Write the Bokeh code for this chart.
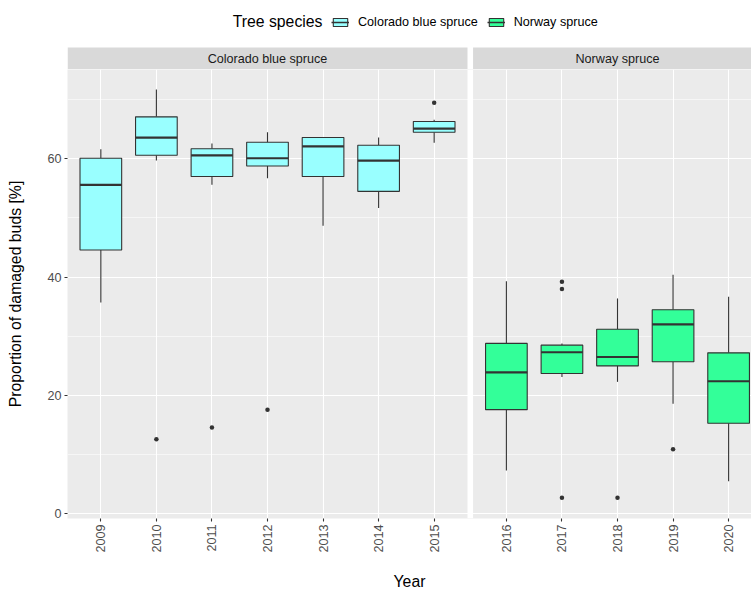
import math
from bokeh.plotting import figure
from bokeh.models import (Range1d, FixedTicker, Legend, LegendItem, ColumnDataSource)
from bokeh.layouts import column
from bokeh.embed import file_html
from bokeh.resources import INLINE
from bokeh.core.properties import value

# ---------------- data ----------------
species = ["Colorado blue spruce", "Norway spruce"]
colors = ["#99FFFF", "#33FF99"]
legend_title = "Tree species"

years_c = ["2009", "2010", "2011", "2012", "2013", "2014", "2015"]
low_c = [35.7, 59.7, 55.6, 56.7, 48.7, 51.7, 62.7]
q1_c = [44.6, 60.6, 57.0, 58.8, 57.0, 54.5, 64.5]
med_c = [55.6, 63.6, 60.6, 60.1, 62.1, 59.7, 65.1]
q3_c = [60.1, 67.1, 61.7, 62.8, 63.6, 62.3, 66.3]
up_c = [61.6, 71.7, 62.6, 64.5, 63.6, 63.6, 66.6]
out_year_c = ["2010", "2011", "2012", "2015"]
out_val_c = [12.6, 14.6, 17.6, 69.5]

years_n = ["2016", "2017", "2018", "2019", "2020"]
low_n = [7.3, 23.1, 22.3, 18.6, 5.5]
q1_n = [17.6, 23.7, 25.0, 25.7, 15.3]
med_n = [23.9, 27.3, 26.5, 32.0, 22.4]
q3_n = [28.8, 28.5, 31.2, 34.5, 27.2]
up_n = [39.3, 28.8, 36.4, 40.4, 36.7]
out_year_n = ["2017", "2017", "2017", "2018", "2019"]
out_val_n = [39.2, 38.0, 2.7, 2.7, 10.9]

y_ticks = [0, 20, 40, 60]
y_minor = [10, 30, 50, 70]

# ---------------- layout constants ----------------
FONT = "Liberation Sans"
TOTAL_W = 751
FRAME_LEFT = 67
FRAME_W = TOTAL_W - FRAME_LEFT
LEFT_PANEL_W = 400
STRIP_FIG_H = 69
STRIP_H = 22
MAIN_H = 523
MAIN_FRAME_H = 452
EXP = 0.6
GAP = 0.1
BOX_W = 0.75
DARK = "#333333"
LEGEND_CY = 21          # legend vertical centre (px from top)
LEGEND_GLYPH_X = 331    # px from left of page
TITLE_GAP = 9

# x positions (panel 1 then panel 2, with a gap between)
xc = [i + 1.0 for i in range(len(years_c))]
left_lo, left_hi = xc[0] - EXP, xc[-1] + EXP
right_lo = left_hi + GAP
xn = [right_lo + EXP + i for i in range(len(years_n))]
right_hi = xn[-1] + EXP
px_per_unit = LEFT_PANEL_W / (left_hi - left_lo)
xr = Range1d(left_lo, left_lo + FRAME_W / px_per_unit)

pos_c = dict(zip(years_c, xc))
pos_n = dict(zip(years_n, xn))

y_lo, y_hi = -0.8, 75.1

# ---------------- main panel figure ----------------
p = figure(width=TOTAL_W, height=MAIN_H, x_range=xr, y_range=Range1d(y_lo, y_hi),
           min_border_left=FRAME_LEFT, min_border_right=0, min_border_top=0,
           min_border_bottom=MAIN_H - MAIN_FRAME_H,
           background_fill_color="#EBEBEB", border_fill_color="white",
           outline_line_color=None, output_backend="svg", toolbar_location=None)

def draw_group(xs, low, q1, med, q3, up, color, oyears, ovals, pos):
    src = ColumnDataSource(dict(
        x=xs, low=low, q1=q1, med=med, q3=q3, up=up,
        xl=[x - BOX_W / 2 for x in xs], xr=[x + BOX_W / 2 for x in xs]))
    p.segment(x0="x", x1="x", y0="q3", y1="up", source=src, line_color=DARK, line_width=1.1)
    p.segment(x0="x", x1="x", y0="q1", y1="low", source=src, line_color=DARK, line_width=1.1)
    p.vbar(x="x", width=BOX_W, bottom="q1", top="q3", source=src,
           fill_color=color, line_color=DARK, line_width=1.1)
    p.segment(x0="xl", x1="xr", y0="med", y1="med", source=src, line_color=DARK, line_width=2.2)
    p.scatter(x=[pos[y] for y in oyears], y=ovals, size=4.5,
              fill_color=DARK, line_color=None)
    return src

src_c = draw_group(xc, low_c, q1_c, med_c, q3_c, up_c, colors[0], out_year_c, out_val_c, pos_c)
src_n = draw_group(xn, low_n, q1_n, med_n, q3_n, up_n, colors[1], out_year_n, out_val_n, pos_n)

# white gap between the two panels
p.quad(left=[left_hi], right=[right_lo], bottom=[y_lo], top=[y_hi],
       fill_color="white", line_color=None)

# axes
ticks_x = xc + xn
labels_x = years_c + years_n
p.xaxis.ticker = FixedTicker(ticks=ticks_x)
p.xaxis.major_label_overrides = dict(zip(ticks_x, labels_x))
p.xaxis.major_label_orientation = math.pi / 2
p.yaxis.ticker = FixedTicker(ticks=y_ticks, minor_ticks=y_minor)

for ax in (p.xaxis[0], p.yaxis[0]):
    ax.axis_line_color = None
    ax.major_tick_line_color = DARK
    ax.major_tick_line_width = 1.1
    ax.major_tick_out = 3
    ax.major_tick_in = 0
    ax.minor_tick_line_color = None
    ax.major_label_text_font = FONT
    ax.major_label_text_font_size = "12.6px"
    ax.major_label_text_color = "#4D4D4D"
    ax.axis_label_text_font = FONT
    ax.axis_label_text_font_size = "15.8px"
    ax.axis_label_text_font_style = "normal"
    ax.axis_label_text_color = "black"

p.xaxis.axis_label = "Year"
p.xaxis.major_label_standoff = 3
p.xaxis.axis_label_standoff = 17
p.yaxis.axis_label = "Proportion of damaged buds [%]"
p.yaxis.major_label_standoff = 2
p.yaxis.axis_label_standoff = 20

p.xgrid.grid_line_color = "white"
p.xgrid.grid_line_width = 1.1
p.ygrid.grid_line_color = "white"
p.ygrid.grid_line_width = 1.1
p.ygrid.minor_grid_line_color = "white"
p.ygrid.minor_grid_line_width = 0.55

# ---------------- strip + legend figure ----------------
s = figure(width=TOTAL_W, height=STRIP_FIG_H, x_range=xr, y_range=Range1d(0, STRIP_FIG_H),
           min_border_left=FRAME_LEFT, min_border_right=0, min_border_top=0, min_border_bottom=0,
           x_axis_location=None, y_axis_location=None,
           background_fill_color="white", border_fill_color="white",
           outline_line_color=None, output_backend="svg", toolbar_location=None)
s.xgrid.visible = False
s.ygrid.visible = False

s.quad(left=[left_lo, right_lo], right=[left_hi, right_hi], bottom=[0, 0], top=[STRIP_H, STRIP_H],
       fill_color="#D9D9D9", line_color=None)
s.text(x=[(left_lo + left_hi) / 2, (right_lo + right_hi) / 2], y=[STRIP_H / 2] * 2,
       text=species, text_align="center", text_baseline="middle",
       text_font=value(FONT), text_font_size="12.6px", text_color="#1A1A1A")

# legend title as text, right-aligned just before the legend keys
title_x = left_lo + (LEGEND_GLYPH_X - TITLE_GAP - FRAME_LEFT) / px_per_unit
s.text(x=[title_x], y=[STRIP_FIG_H - LEGEND_CY], text=[legend_title],
       text_align="right", text_baseline="middle",
       text_font=value(FONT), text_font_size="15.8px", text_color="black")

# legend-only (hidden) renderers sharing the boxplot data
items = []
for name, col, src in zip(species, colors, (src_c, src_n)):
    rb = s.vbar(x="x", width=BOX_W, top="q3", bottom="q1", source=src,
                fill_color=col, line_color=DARK, line_width=1.1, visible=False)
    rm = s.segment(x0="xl", x1="xr", y0="med", y1="med", source=src,
                   line_color=DARK, line_width=1.5, visible=False)
    items.append(LegendItem(label=name, renderers=[rb, rm]))

LEG_H = 15
legend = Legend(items=items, orientation="horizontal",
                location=(LEGEND_GLYPH_X - FRAME_LEFT, STRIP_FIG_H - LEGEND_CY - LEG_H / 2),
                glyph_width=18, glyph_height=10, label_height=10, label_standoff=9,
                spacing=9, padding=0, margin=0,
                border_line_color=None, background_fill_alpha=0,
                label_text_font=FONT, label_text_font_size="12.6px", label_text_color="black")
s.add_layout(legend)

layout = column(s, p)
open("out.html", "w").write(file_html(layout, INLINE))
